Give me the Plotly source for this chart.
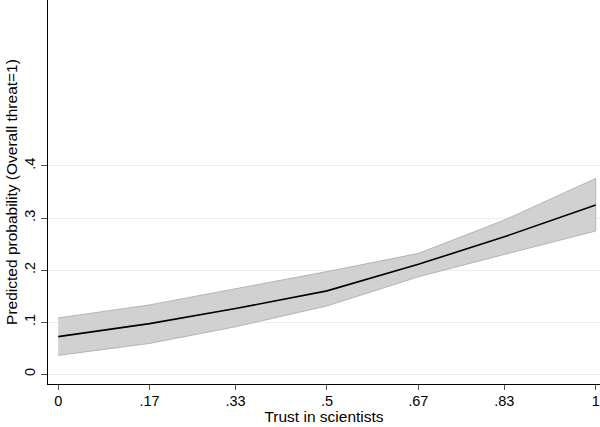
import plotly.graph_objects as go

trust = [0, 0.17, 0.33, 0.5, 0.67, 0.83, 1]
x_labels = ["0", ".17", ".33", ".5", ".67", ".83", "1"]
pred = [0.072, 0.097, 0.126, 0.160, 0.211, 0.264, 0.325]
lower = [0.036, 0.059, 0.091, 0.131, 0.187, 0.230, 0.275]
upper = [0.108, 0.133, 0.164, 0.197, 0.232, 0.296, 0.376]
y_ticks = [0, 0.1, 0.2, 0.3, 0.4]
y_labels = ["0", ".1", ".2", ".3", ".4"]

fig = go.Figure()
fig.add_trace(go.Scatter(
    x=trust + trust[::-1], y=upper + lower[::-1],
    fill="toself", fillcolor="#d1d1d1",
    line=dict(color="#b4b4b4", width=1),
    mode="lines", hoverinfo="skip", showlegend=False))
fig.add_trace(go.Scatter(
    x=trust, y=pred, mode="lines",
    line=dict(color="black", width=1.6), showlegend=False))

family = "Liberation Sans, Arial, Helvetica, sans-serif"
tfont = dict(family=family, size=14.5, color="black")
font = dict(family=family, size=15.5, color="black")
fig.update_layout(
    width=600, height=427,
    margin=dict(l=48, r=0, t=0, b=43, autoexpand=False),
    paper_bgcolor="white", plot_bgcolor="white",
    font=font,
    xaxis=dict(
        range=[-0.019, 1.008], tickvals=trust, ticktext=x_labels,
        showgrid=False, zeroline=False, automargin=False,
        showline=True, linecolor="black", linewidth=1.2,
        ticks="outside", ticklen=5, tickcolor="#555555", tickwidth=1,
        ticklabelstandoff=-2,
        title=dict(text="Trust in scientists", standoff=1, font=font),
        tickfont=tfont),
    yaxis=dict(
        range=[-0.019, 0.719], tickvals=y_ticks, ticktext=y_labels,
        showgrid=True, gridcolor="#e8eff2", gridwidth=1,
        zeroline=False, automargin=False,
        showline=True, linecolor="black", linewidth=1.2,
        ticks="outside", ticklen=6, tickcolor="#555555", tickwidth=1,
        tickangle=-90,
        title=dict(text="Predicted probability (Overall threat=1)", standoff=0, font=font),
        tickfont=tfont),
)
fig.write_html("out.html", config={"displayModeBar": False},
               post_script="document.body.style.margin='0';document.body.style.overflow='hidden';")
